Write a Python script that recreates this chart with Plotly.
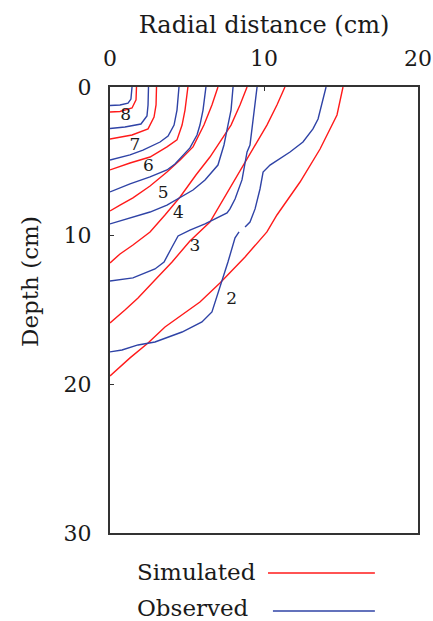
import plotly.graph_objects as go

# ---- Simulated contours (radial distance cm, depth cm) ----
sim2_x = [15.13, 14.74, 13.64, 12.34, 10.84, 10.19, 8.77, 7.14, 5.84, 4.68, 3.57, 2.47, 1.30, 0.0]
sim2_y = [0.0, 1.88, 4.17, 6.39, 8.61, 9.75, 11.43, 13.18, 14.46, 15.33, 16.14, 17.22, 18.22, 19.44]
sim3_x = [11.36, 10.84, 10.19, 9.42, 8.64, 7.60, 6.49, 5.19, 4.03, 2.92, 1.82, 0.97, 0.0]
sim3_y = [0.0, 1.21, 2.56, 3.90, 5.25, 7.06, 9.08, 10.36, 11.77, 12.98, 14.19, 15.00, 15.87]
sim4_x = [8.90, 8.44, 7.86, 7.21, 6.49, 5.58, 4.55, 3.57, 2.60, 1.49, 0.65, 0.0]
sim4_y = [0.0, 1.21, 2.56, 3.56, 4.71, 5.92, 7.40, 8.61, 9.75, 10.63, 11.23, 11.84]
sim5_x = [7.01, 6.62, 6.10, 5.39, 4.55, 3.70, 2.60, 1.49, 0.65, 0.0]
sim5_y = [0.0, 1.21, 2.56, 4.03, 4.91, 5.72, 6.66, 7.46, 7.94, 8.34]
sim6_x = [5.06, 4.87, 4.68, 4.35, 3.70, 2.60, 1.30, 0.0]
sim6_y = [0.0, 1.55, 2.56, 3.56, 4.03, 4.71, 5.11, 5.58]
sim7_x = [3.02, 2.99, 2.86, 2.47, 1.43, 0.0]
sim7_y = [0.0, 1.21, 2.02, 2.82, 3.23, 3.50]
sim8_x = [1.72, 1.69, 1.43, 0.65, 0.0]
sim8_y = [0.0, 0.87, 1.41, 1.65, 1.68]

# ---- Observed contours ----
obs2_x = [14.03, 13.83, 13.51, 13.18, 12.53, 11.69, 11.04, 10.39, 9.94, 9.74, 9.42, 9.09, 8.77, None,
          8.38, 8.12, 7.66, 7.34, 7.01, 6.62, 5.97, 4.68, 2.92, 1.82, 0.78, 0.0]
obs2_y = [0.0, 0.81, 2.15, 2.82, 3.70, 4.37, 4.84, 5.25, 5.72, 6.86, 8.20, 9.08, 9.42, None,
          9.75, 10.15, 11.77, 12.84, 13.99, 15.13, 15.80, 16.48, 17.15, 17.35, 17.69, 17.82]
obs3_x = [9.55, 9.42, 9.29, 9.09, 8.90, 8.57, 8.12, 7.79, 7.60, 6.17, 5.19, 4.42, 4.03, 3.51, 2.92, 1.49, 0.0]
obs3_y = [0.0, 1.21, 2.22, 3.90, 4.37, 6.25, 7.53, 8.20, 8.47, 9.21, 9.62, 10.02, 10.76, 11.77, 12.24, 12.84, 13.05]
obs4_x = [7.99, 7.86, 7.66, 7.40, 7.01, 6.17, 5.39, 4.55, 3.70, 2.60, 1.30, 0.0]
obs4_y = [0.0, 1.55, 2.56, 3.90, 5.25, 6.25, 6.93, 7.46, 7.94, 8.41, 8.81, 9.21]
obs5_x = [6.23, 6.04, 5.84, 5.65, 5.19, 4.74, 4.22, 3.70, 2.60, 1.30, 0.0]
obs5_y = [0.0, 1.55, 2.56, 3.23, 4.10, 4.57, 5.18, 5.58, 6.05, 6.52, 7.06]
obs6_x = [4.48, 4.35, 4.16, 3.77, 3.25, 2.14, 1.30, 0.0]
obs6_y = [0.0, 1.55, 2.56, 3.30, 3.70, 4.24, 4.57, 4.91]
obs7_x = [2.50, 2.47, 2.40, 2.01, 0.97, 0.0]
obs7_y = [0.0, 1.21, 1.95, 2.49, 2.69, 2.79]
obs8_x = [1.43, 1.36, 1.17, 0.65, 0.0]
obs8_y = [0.0, 0.81, 1.08, 1.21, 1.24]

# ---- contour labels ----
label_text = ["2", "3", "4", "5", "6", "7", "8"]
label_x = [7.9, 5.52, 4.44, 3.46, 2.49, 1.62, 1.02]
label_y = [14.33, 10.74, 8.52, 7.18, 5.38, 3.92, 1.90]

x_ticks = [0, 10, 20]
y_ticks = [0, 10, 20, 30]

RED = "#ff1a1a"
BLUE = "#2f43a6"
FONT = "DejaVu Serif"
INK = "#1a1a1a"

fig = go.Figure()
sims = [(sim2_x, sim2_y), (sim3_x, sim3_y), (sim4_x, sim4_y), (sim5_x, sim5_y),
        (sim6_x, sim6_y), (sim7_x, sim7_y), (sim8_x, sim8_y)]
obss = [(obs2_x, obs2_y), (obs3_x, obs3_y), (obs4_x, obs4_y), (obs5_x, obs5_y),
        (obs6_x, obs6_y), (obs7_x, obs7_y), (obs8_x, obs8_y)]
for lvl, (xs, ys) in zip(label_text, sims):
    fig.add_trace(go.Scatter(x=xs, y=ys, mode="lines", name="Simulated",
                             legendgroup="sim", showlegend=False,
                             line=dict(color=RED, width=1.4)))
for lvl, (xs, ys) in zip(label_text, obss):
    fig.add_trace(go.Scatter(x=xs, y=ys, mode="lines", name="Observed",
                             legendgroup="obs", showlegend=False, connectgaps=False,
                             line=dict(color=BLUE, width=1.4)))

fig.add_trace(go.Scatter(x=label_x, y=label_y, mode="text", text=label_text,
                         textfont=dict(family=FONT, size=17, color=INK),
                         showlegend=False, hoverinfo="skip"))

annotations = [
    dict(text="Depth (cm)", xref="paper", yref="paper", x=-0.26, y=0.565,
         textangle=-90, showarrow=False, font=dict(family=FONT, size=23, color=INK),
         xanchor="center", yanchor="middle"),
    dict(text="Simulated", xref="paper", yref="paper", x=0.081, y=-0.087,
         showarrow=False, font=dict(family=FONT, size=23, color=INK),
         xanchor="left", yanchor="middle"),
    dict(text="Observed", xref="paper", yref="paper", x=0.081, y=-0.168,
         showarrow=False, font=dict(family=FONT, size=23, color=INK),
         xanchor="left", yanchor="middle"),
]
shapes = [
    dict(type="line", xref="paper", yref="paper", x0=0.513, x1=0.860, y0=-0.0897, y1=-0.0897,
         line=dict(color=RED, width=1.6)),
    dict(type="line", xref="paper", yref="paper", x0=0.529, x1=0.860, y0=-0.175, y1=-0.175,
         line=dict(color=BLUE, width=1.6)),
]

fig.update_layout(
    width=433, height=621,
    margin=dict(l=110, r=15, t=87, b=88, autoexpand=False),
    paper_bgcolor="white", plot_bgcolor="white",
    font=dict(family=FONT, color=INK),
    annotations=annotations, shapes=shapes,
    showlegend=False,
    xaxis=dict(side="top", range=[0, 20], tickvals=x_ticks, ticks="inside", ticklen=4,
               tickcolor="#333", showline=True, mirror=True, linecolor="#333", linewidth=2,
               showgrid=False, zeroline=False, tickfont=dict(family=FONT, size=22, color=INK),
               ticklabelstandoff=10, automargin=False,
               title=dict(text="Radial distance (cm)", font=dict(family=FONT, size=24, color=INK),
                          standoff=6)),
    yaxis=dict(range=[30, 0], tickvals=y_ticks, ticks="inside", ticklen=4,
               tickcolor="#333", showline=True, mirror=True, linecolor="#333", linewidth=2,
               showgrid=False, zeroline=False, tickfont=dict(family=FONT, size=22, color=INK),
               ticklabelstandoff=12, automargin=False),
)

fig.write_html("out.html", config={"displayModeBar": False},
               post_script="document.body.style.margin='0px';document.body.style.padding='0px';")
